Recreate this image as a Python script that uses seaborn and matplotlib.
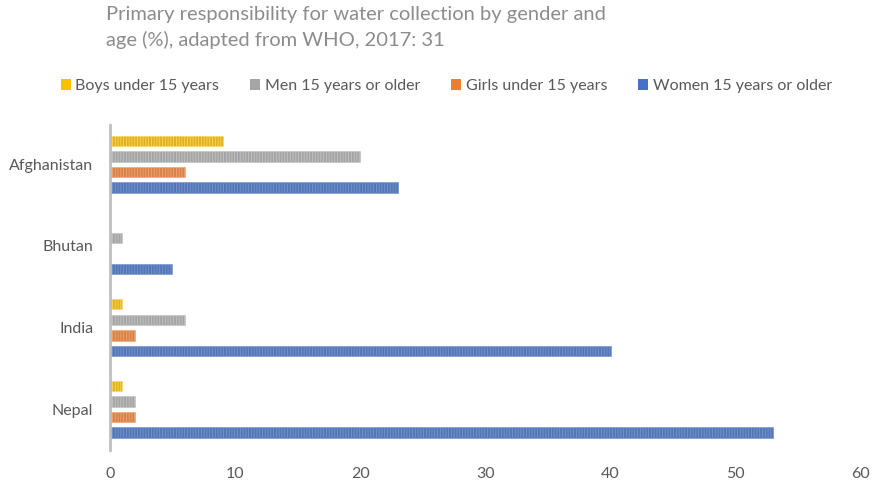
import matplotlib
matplotlib.use("Agg")
import matplotlib.pyplot as plt
import seaborn as sns
import pandas as pd

countries = ["Afghanistan", "Bhutan", "India", "Nepal"]
groups = ["Boys under 15 years", "Men 15 years or older",
          "Girls under 15 years", "Women 15 years or older"]
boys = [9, 0, 1, 1]
men = [20, 1, 6, 2]
girls = [6, 0, 2, 2]
women = [23, 5, 40, 53]
x_ticks = [0, 10, 20, 30, 40, 50, 60]

colors = ["#FFC000", "#A5A5A5", "#ED7D31", "#4472C4"]
stripe = ["#FFD95C", "#C4C4C4", "#F4A574", "#7596D6"]

rows = []
for series, vals in zip(groups, [boys, men, girls, women]):
    for c, v in zip(countries, vals):
        rows.append({"country": c, "group": series, "value": v})
df = pd.DataFrame(rows)

sns.set_theme(style="white")
plt.rcParams["font.family"] = ["Lato", "DejaVu Sans"]
plt.rcParams["hatch.linewidth"] = 0.6

fig = plt.figure(figsize=(8.79, 4.84), dpi=100)
ax = fig.add_axes([0.125, 0.07, 0.8545, 0.672])

sns.barplot(data=df, x="value", y="country", hue="group", order=countries,
            hue_order=groups, palette=colors, width=0.76, gap=0.33,
            orient="h", ax=ax, legend=False, errorbar=None)

# striped fill texture on each bar
for cont, sc in zip(ax.containers, stripe):
    for p in cont:
        p.set_hatch("||||||")
        p.set_edgecolor(sc)
        p.set_linewidth(0.4)

ax.set_xlim(0, 60)
ax.set_ylim(3.5, -0.48)
ax.set_xticks(x_ticks)
ax.set_xticklabels([str(t) for t in x_ticks])
ax.set_xlabel("")
ax.set_ylabel("")
ax.tick_params(axis="both", length=0, labelsize=11.5, colors="#595959")
ax.tick_params(axis="x", pad=12)
ax.tick_params(axis="y", pad=12)
for s in ["top", "right", "bottom"]:
    ax.spines[s].set_visible(False)
ax.spines["left"].set_color("#BFBFBF")
ax.spines["left"].set_linewidth(2)

fig.text(0.121, 0.988, "Primary responsibility for water collection by gender and\nage (%), adapted from WHO, 2017: 31",
         fontsize=14.5, color="#8C8C8C", va="top", ha="left", linespacing=1.55)

handles = [plt.Rectangle((0, 0), 1, 1, facecolor=c, edgecolor="none") for c in colors]
fig.legend(handles, groups, loc="center", bbox_to_anchor=(0.508, 0.822), ncol=4,
           frameon=False, fontsize=11.5, labelcolor="#595959",
           handlelength=0.6, handleheight=0.6, handletextpad=0.3, columnspacing=1.95)

fig.savefig("out.png", dpi=100)
